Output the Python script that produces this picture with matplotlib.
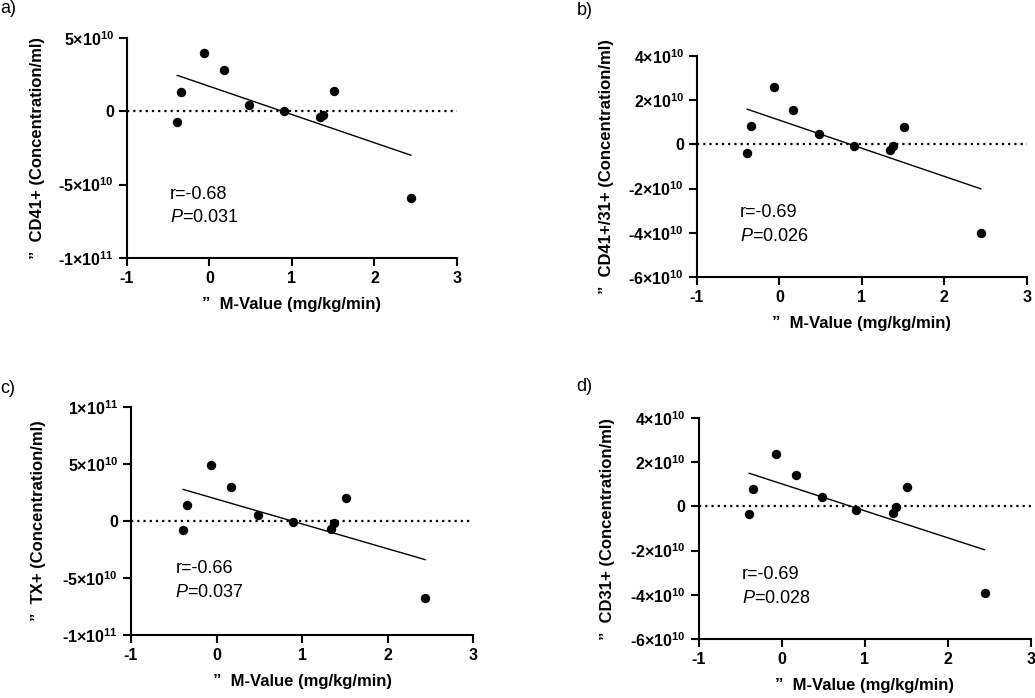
import numpy as np
import matplotlib
matplotlib.use("Agg")
import matplotlib.pyplot as plt
from matplotlib.ticker import FuncFormatter

plt.rcParams["font.family"] = ["Liberation Sans", "DejaVu Sans"]
plt.rcParams["mathtext.fontset"] = "custom"
plt.rcParams["mathtext.rm"] = "Liberation Sans"
plt.rcParams["mathtext.bf"] = "Liberation Sans:bold"
plt.rcParams["mathtext.it"] = "Liberation Sans:italic"

# M-value (mg/kg/min), same subjects in every panel
m_value = [-0.39, -0.34, -0.07, 0.17, 0.48, 0.90, 1.34, 1.38, 1.51, 2.44]

# concentrations, in units of 1e10 / ml
cd41 = [-0.70, 1.30, 4.00, 2.84, 0.43, 0.05, -0.39, -0.25, 1.38, -5.92]
cd41_31 = [-0.41, 0.84, 2.58, 1.57, 0.45, -0.06, -0.26, -0.09, 0.80, -3.99]
tx = [-0.76, 1.43, 4.88, 2.95, 0.52, -0.06, -0.73, -0.18, 1.98, -6.73]
cd31 = [-0.36, 0.80, 2.38, 1.41, 0.42, -0.15, -0.32, -0.03, 0.87, -3.90]

# regression line ends (1e10 / ml) at min and max M-value
fit_cd41 = [2.45, -2.99]
fit_cd41_31 = [1.59, -2.01]
fit_tx = [2.77, -3.39]
fit_cd31 = [1.50, -1.96]

r_values = ["-0.68", "-0.69", "-0.66", "-0.69"]
p_values = ["0.031", "0.026", "0.037", "0.028"]
markers = ["CD41+", "CD41+/31+", "TX+", "CD31+"]
letters = ["a)", "b)", "c)", "d)"]

y_ticks = [
    [-1e11, -5e10, 0, 5e10],
    [-6e10, -4e10, -2e10, 0, 2e10, 4e10],
    [-1e11, -5e10, 0, 5e10, 1e11],
    [-6e10, -4e10, -2e10, 0, 2e10, 4e10],
]
x_ticks = [-1, 0, 1, 2, 3]


def sci_label(v, pos=None):
    if v == 0:
        return "0"
    e = int(np.floor(np.log10(abs(v)) + 1e-9))
    m = int(round(v / 10 ** e))
    # plain part keeps the hyphen minus, exponent via mathtext
    return "%d×10$^{\\mathbf{%d}}$" % (m, e)


fig = plt.figure(figsize=(10.35, 6.98), dpi=100)

# axes boxes [left, bottom, width, height] in figure fractions
boxes = [
    [0.1227, 0.6304, 0.3188, 0.3152],
    [0.6734, 0.6032, 0.3188, 0.3166],
    [0.1266, 0.0903, 0.3304, 0.3266],
    [0.6749, 0.0845, 0.3213, 0.3166],
]
letter_pos = [(0.0, 0.988), (0.557, 0.985), (0.0, 0.444), (0.557, 0.446)]

data = [cd41, cd41_31, tx, cd31]
fits = [fit_cd41, fit_cd41_31, fit_tx, fit_cd31]

for i in range(4):
    ax = fig.add_axes(boxes[i])
    y = np.array(data[i]) * 1e10
    ax.plot([-1, 3], [0, 0], color="black", lw=1.6, linestyle=(0, (1, 1.8)), zorder=1)
    ax.plot([min(m_value), max(m_value)], np.array(fits[i]) * 1e10,
            color="black", lw=1.0, zorder=2)
    ax.scatter(m_value, y, s=46, color="black", zorder=3, linewidths=0)

    ax.set_xlim(-1, 3)
    ax.set_ylim(y_ticks[i][0], y_ticks[i][-1])
    ax.set_xticks(x_ticks)
    ax.set_yticks(y_ticks[i])
    ax.xaxis.set_major_formatter(FuncFormatter(lambda v, p: "%d" % v))
    ax.yaxis.set_major_formatter(FuncFormatter(sci_label))

    for side in ["top", "right"]:
        ax.spines[side].set_visible(False)
    for side in ["left", "bottom"]:
        ax.spines[side].set_linewidth(1.5)
    ax.tick_params(axis="both", direction="out", length=5.5, width=1.5,
                   labelsize=11.5, pad=4)
    for lab in ax.get_xticklabels() + ax.get_yticklabels():
        lab.set_fontweight("bold")

    ax.set_xlabel("”  M-Value (mg/kg/min)", fontsize=12, fontweight="bold", labelpad=8)
    ax.set_ylabel("”  " + markers[i] + " (Concentration/ml)", fontsize=12,
                  fontweight="bold")
    ax.yaxis.set_label_coords(-0.25, 0.5)

    ax.text(0.13, 0.29, "r=" + r_values[i], transform=ax.transAxes,
            fontsize=13, va="center", ha="left")
    ax.text(0.13, 0.185, r"$\mathit{P}$=" + p_values[i], transform=ax.transAxes,
            fontsize=13, va="center", ha="left")

    fig.text(letter_pos[i][0], letter_pos[i][1], letters[i], fontsize=13,
             va="center", ha="left")

fig.savefig("out.png", dpi=100)
